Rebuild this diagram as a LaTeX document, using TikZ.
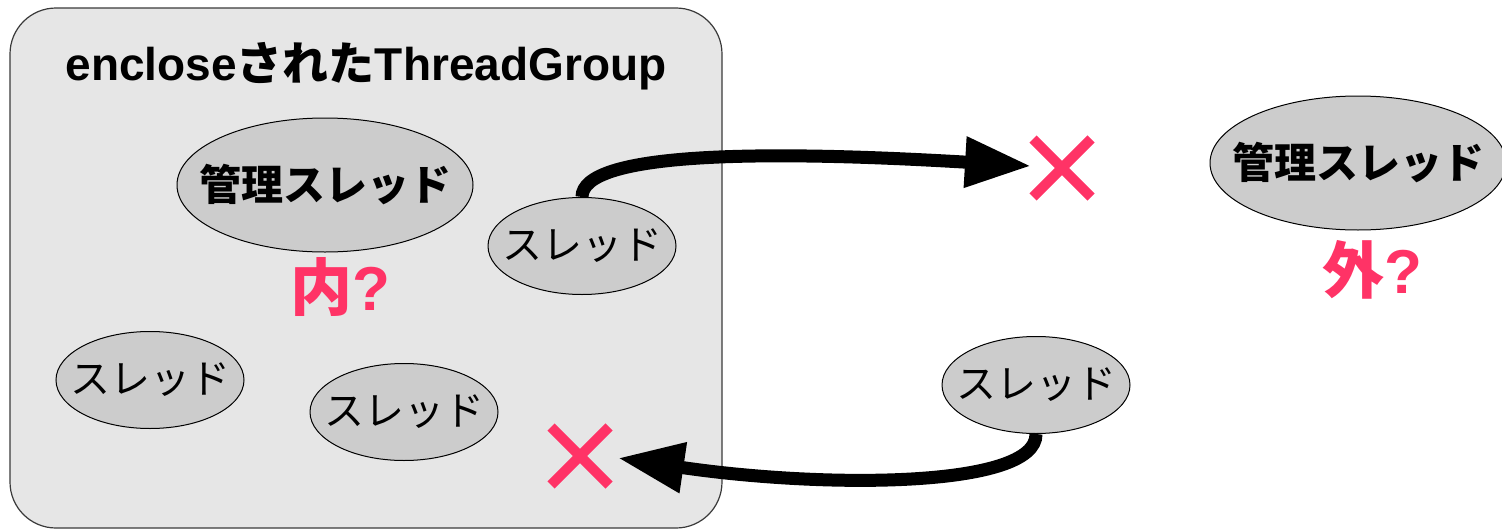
\documentclass[tikz,border=0pt]{standalone}
\usepackage{fontspec}
\setmainfont{Liberation Sans}
\newfontfamily\jp{Noto Sans CJK JP}
\usetikzlibrary{arrows.meta,shapes.geometric,shapes.misc,calc}
\definecolor{grpfill}{HTML}{E6E6E6}
\definecolor{grpline}{HTML}{3A3A3A}
\definecolor{thrfill}{HTML}{CCCCCC}
\definecolor{alert}{HTML}{FF3366}
\newcommand{\zw}[1]{\makebox[0pt]{#1}}
\tikzset{
  thread/.style={ellipse, draw=black, line width=1pt, fill=thrfill, inner sep=0pt,
    minimum width=188pt, minimum height=97pt,
    font=\jp\fontsize{40}{40}\selectfont},
  manager/.style={ellipse, draw=black, line width=1pt, fill=thrfill, inner sep=0pt,
    minimum width=296pt, minimum height=134pt,
    font=\jp\bfseries\fontsize{42}{42}\selectfont},
  qmark/.style={text=alert, font=\bfseries\fontsize{62}{62}\selectfont},
  nogo/.style={cross out, draw=alert, line width=10pt, minimum size=48pt, inner sep=0pt},
  bigarrow/.style={line width=13pt, -{Triangle[length=66pt,width=48pt]}}
}
\begin{document}
\begin{tikzpicture}[x=1pt,y=-1pt]
\useasboundingbox (0,0) rectangle (1502,530);
\clip (0,0) rectangle (1502,530);
% enclosing thread group
\draw[grpline, line width=1.2pt, fill=grpfill, rounded corners=46pt]
  (10,8) rectangle (722,528);
\node[anchor=base, font=\bfseries\fontsize{46}{46}\selectfont] (title) at (366,80)
  {enclose{\jp された}ThreadGroup};
% threads inside the group
\node[manager] (mgrIn) at (325,185) {\zw{管理スレッド}};
\node[qmark] (in) at (340,287) {{\jp 内}?};
\node[thread] (t1) at (582,246) {\zw{スレッド}};
\node[thread] (t2) at (150,380) {\zw{スレッド}};
\node[thread] (t3) at (404,412) {\zw{スレッド}};
% outside
\node[manager] (mgrOut) at (1358,163) {\zw{管理スレッド}};
\node[qmark] (out) at (1372,270) {{\jp 外}?};
\node[thread] (t4) at (1036,385) {\zw{スレッド}};
% forbidden crossings
\node[nogo] (xOut) at (1062,168) {};
\node[nogo] (xIn) at (580,456) {};
\draw[bigarrow] (t1.north) .. controls ($(t1.north)+(0,-45)$) and (760,150) .. ($(xOut.center)+(-31,-2)$);
\draw[bigarrow] (t4.south) .. controls ($(t4.south)+(1,55)$) and (820,488) .. ($(xIn.center)+(38,2)$);
\end{tikzpicture}
\end{document}
